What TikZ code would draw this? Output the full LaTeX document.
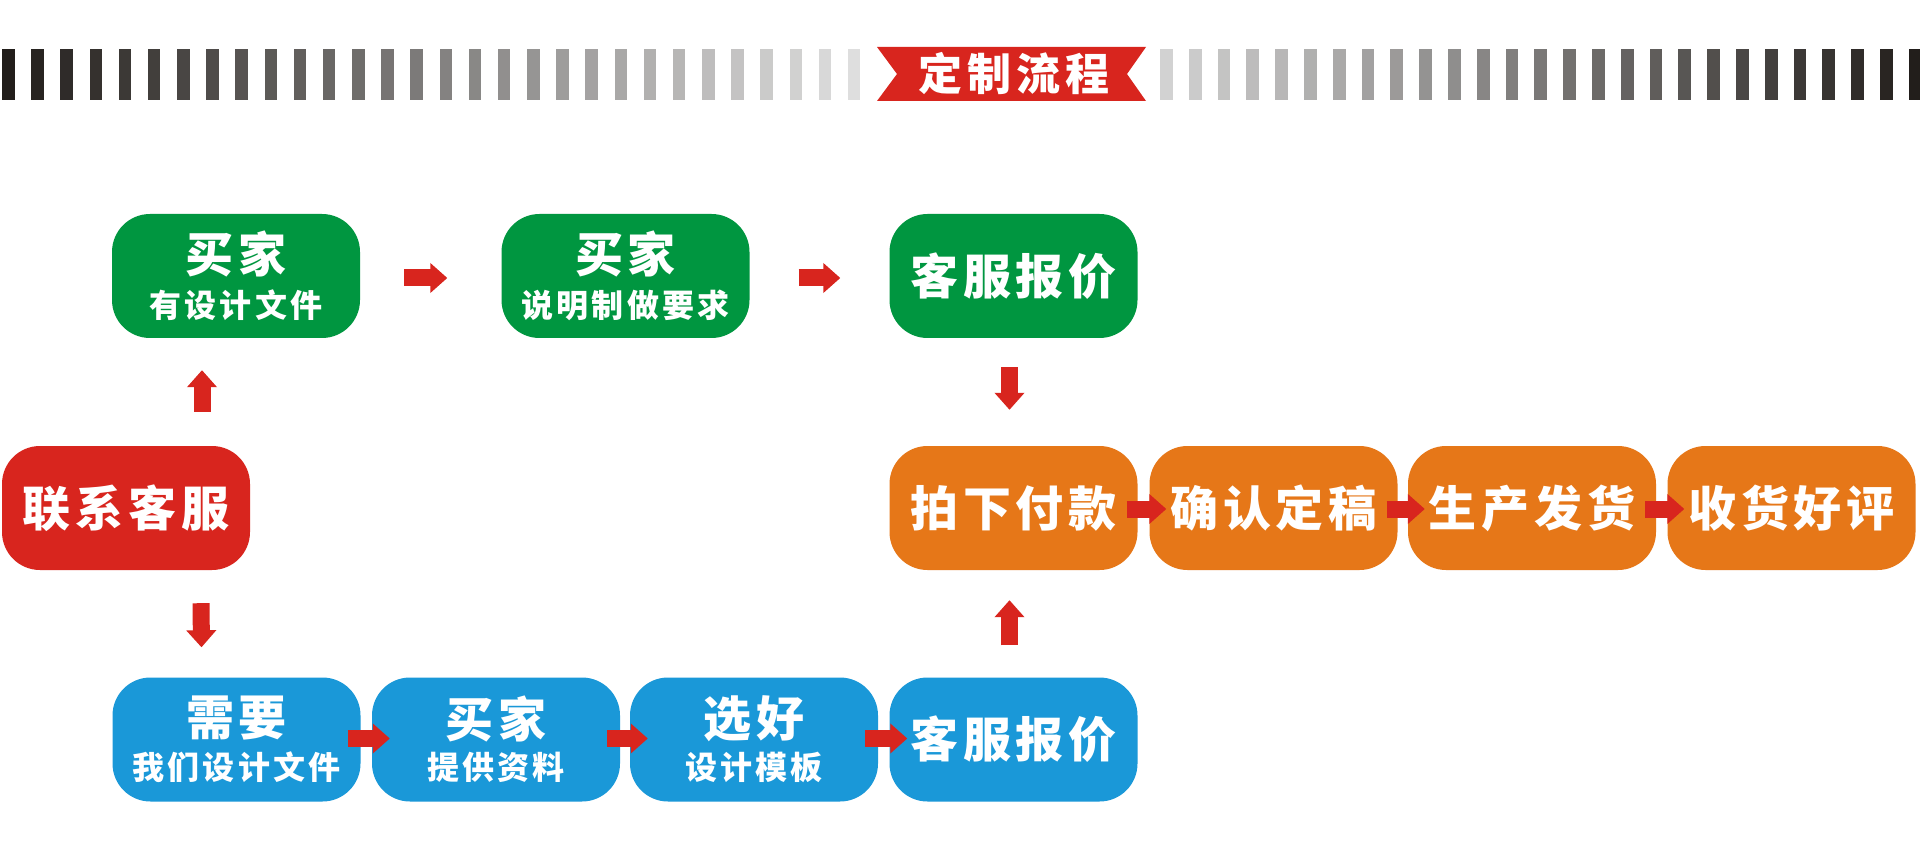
\documentclass[tikz,border=0pt]{standalone}
\usepackage{fontspec}
\usetikzlibrary{calc,arrows.meta}
\newfontfamily\cjkA{Noto Sans CJK SC}[LetterSpace=10]
\newfontfamily\cjkB{Noto Sans CJK SC}[LetterSpace=10]
\newfontfamily\cjkH{Noto Sans CJK SC}[LetterSpace=12]
\definecolor{cgreen}{RGB}{0,150,64}
\definecolor{cred}{RGB}{216,37,30}
\definecolor{corange}{RGB}{230,119,24}
\definecolor{cblue}{RGB}{26,152,216}
\definecolor{stripeD}{RGB}{34,30,27}
\definecolor{stripeL}{RGB}{222,222,222}
\definecolor{stripeR}{RGB}{210,210,210}
\begin{document}
\begin{tikzpicture}[x=1pt,y=-1pt,
  box/.style={rounded corners=38pt, minimum width=248pt, minimum height=124pt, inner sep=0pt, text=white},
  big/.style={text=white, inner sep=0pt, font=\cjkA\bfseries\fontsize{48}{50}\selectfont},
  small/.style={text=white, inner sep=0pt, font=\cjkB\bfseries\fontsize{32}{34}\selectfont},
  arr/.style={draw=cred, line width=17pt, -{Triangle[width=29pt,length=17pt]}},
  head/.style={text=white, inner sep=0pt, font=\cjkH\bfseries\fontsize{44}{46}\selectfont}]
\useasboundingbox (0,0) rectangle (1920,850);
\fill[white] (0,0) rectangle (1920,850);
% header stripes
\foreach \i in {0,...,29}{
  \pgfmathtruncatemacro\p{round(100*\i/29)}
  \fill[stripeL!\p!stripeD] ({2+29.17*\i},49) rectangle ({14.5+29.17*\i},100);
}
\foreach \i in {0,...,26}{
  \pgfmathtruncatemacro\p{round(100*(26-\i)/26)}
  \fill[stripeR!\p!stripeD] ({1160+28.8*\i},49) rectangle ({1172.8+28.8*\i},100);
}
% banner
\fill[cred] (877,47) -- (1146,47) -- (1127,74) -- (1146,101) -- (877,101) -- (897,74) -- cycle;
\node[head] (title) at (1014,74) {定制流程};
% boxes
\node[box, fill=cred, font=\cjkA\bfseries\fontsize{48}{50}\selectfont] (red) at (126,508) {联系客服};
\node[box, fill=cgreen] (g1) at (236,276) {};
\node[big] (g1a) at ($(g1.center)+(0,-22)$) {买家};
\node[small] (g1b) at ($(g1.center)+(0,29)$) {有设计文件};
\node[box, fill=cgreen] (g2) at (625.5,276) {};
\node[big] (g2a) at ($(g2.center)+(0,-22)$) {买家};
\node[small] (g2b) at ($(g2.center)+(0,29)$) {说明制做要求};
\node[box, fill=cgreen, font=\cjkA\bfseries\fontsize{48}{50}\selectfont] (g3) at (1013.5,276) {客服报价};
\node[box, fill=corange, font=\cjkA\bfseries\fontsize{48}{50}\selectfont] (o1) at (1013.5,508) {拍下付款};
\node[box, fill=corange, font=\cjkA\bfseries\fontsize{48}{50}\selectfont] (o2) at (1273.5,508) {确认定稿};
\node[box, fill=corange, font=\cjkA\bfseries\fontsize{48}{50}\selectfont] (o3) at (1532,508) {生产发货};
\node[box, fill=corange, font=\cjkA\bfseries\fontsize{48}{50}\selectfont] (o4) at (1791.5,508) {收货好评};
\node[box, fill=cblue] (b1) at (236.5,739.5) {};
\node[big] (b1a) at ($(b1.center)+(0,-21)$) {需要};
\node[small] (b1b) at ($(b1.center)+(0,28)$) {我们设计文件};
\node[box, fill=cblue] (b2) at (496,739.5) {};
\node[big] (b2a) at ($(b2.center)+(0,-21)$) {买家};
\node[small] (b2b) at ($(b2.center)+(0,28)$) {提供资料};
\node[box, fill=cblue] (b3) at (754,739.5) {};
\node[big] (b3a) at ($(b3.center)+(0,-21)$) {选好};
\node[small] (b3b) at ($(b3.center)+(0,28)$) {设计模板};
\node[box, fill=cblue, font=\cjkA\bfseries\fontsize{48}{50}\selectfont] (b4) at (1013.5,739.5) {客服报价};
% arrows
\draw[arr] ($(red.north)+(76,-34)$) -- ($(g1.south)+(-34,32)$);
\draw[arr] ($(red.south)+(75,33)$) -- ($(b1.north)+(-35,-30)$);
\draw[arr] ($(g1.east)+(44,2)$) -- ($(g2.west)+(-54,2)$);
\draw[arr] ($(g2.east)+(49,2)$) -- ($(g3.west)+(-49,2)$);
\draw[arr] ($(g3.south)+(-4,29)$) -- ($(o1.north)+(-4,-36)$);
\draw[arr] ($(b4.north)+(-4,-32)$) -- ($(o1.south)+(-4,30)$);
\draw[arr] ($(o1.east)+(-11,1)$) -- ($(o2.west)+(17,1)$);
\draw[arr] ($(o2.east)+(-11,1)$) -- ($(o3.west)+(17,1)$);
\draw[arr] ($(o3.east)+(-11,1)$) -- ($(o4.west)+(17,1)$);
\draw[arr] ($(b1.east)+(-13,-1)$) -- ($(b2.west)+(18,-1)$);
\draw[arr] ($(b2.east)+(-13,-1)$) -- ($(b3.west)+(18,-1)$);
\draw[arr] ($(b3.east)+(-13,-1)$) -- ($(b4.west)+(18,-1)$);
\end{tikzpicture}
\end{document}
